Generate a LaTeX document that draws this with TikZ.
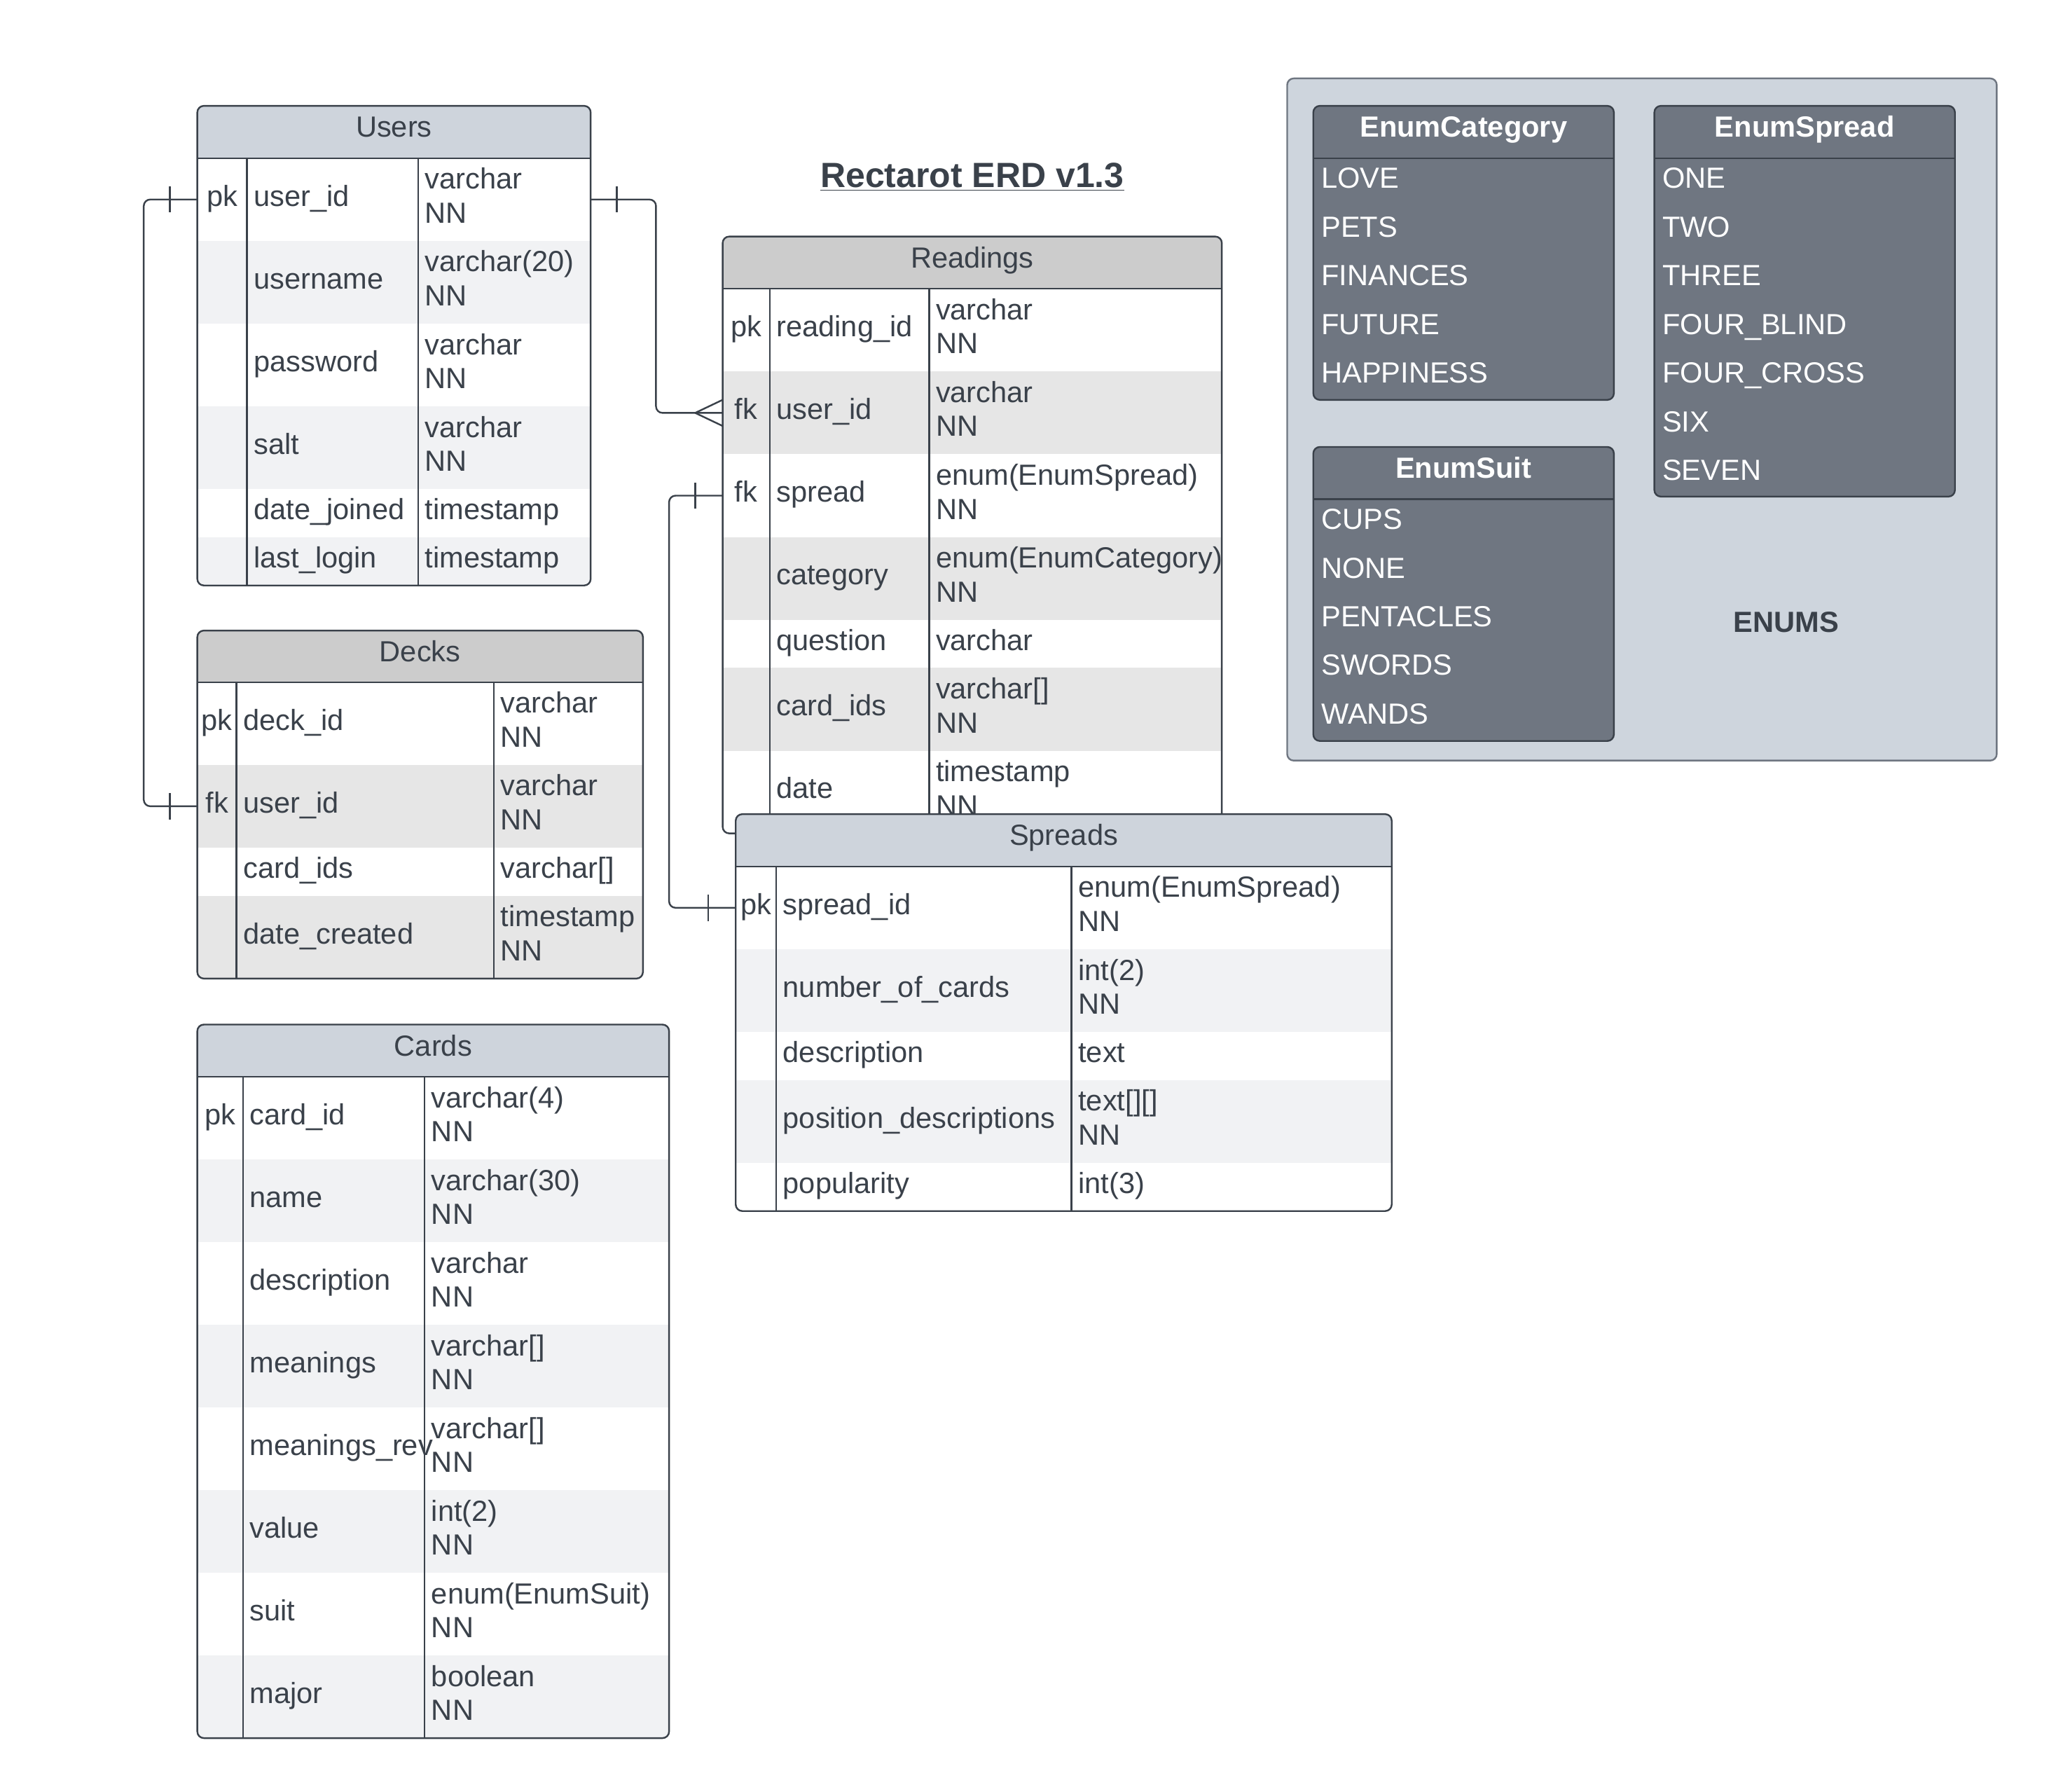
\documentclass[tikz,border=0pt]{standalone}
\usepackage{fontspec}
\setmainfont{Liberation Sans}
\usepackage{tikz}

\definecolor{ink}{HTML}{3A414A}
\definecolor{hdrblue}{HTML}{CED4DC}
\definecolor{rowblue}{HTML}{F1F2F4}
\definecolor{hdrgray}{HTML}{CCCCCC}
\definecolor{rowgray}{HTML}{E6E6E6}
\definecolor{enumbg}{HTML}{CED5DD}
\definecolor{enumbox}{HTML}{6F7681}

\begin{document}
\begin{tikzpicture}[x=1pt,y=-1pt,
  ln/.style={draw=ink, line width=1.3pt},
  cellbox/.style={anchor=north west, inner sep=0pt, outer sep=0pt},
  lbl/.style={font=\fontsize{22.3}{26}\selectfont, text=ink, inner sep=0pt, text height=16pt, text depth=5pt},
  fld/.style={lbl, anchor=west},
  rowmid/.style={yshift=0.5pt},
  rowtop/.style={yshift=13.5pt},
  rowbot/.style={yshift=-12.5pt},
  item/.style={lbl, anchor=west, text=white},
  ihead/.style={lbl, text=white, font=\fontsize{22.3}{26}\selectfont\bfseries}]
\useasboundingbox (0,0) rectangle (1568,1371);

\node[font=\fontsize{26.8}{30}\selectfont\bfseries, text=ink, inner sep=0pt, anchor=base] (title) at (744,143.6) {\underline{Rectarot ERD v1.3}};

% Users
\begin{scope}
\clip[rounded corners=5] (151,81) rectangle (452,448);
\fill[hdrblue] (151,81) rectangle (452,121);
\node[cellbox, fill=white, minimum width=301, minimum height=63.3] (u1) at (151,121) {};
\node[cellbox, fill=rowblue, minimum width=301, minimum height=63.3] (u2) at (u1.south west) {};
\node[cellbox, fill=white, minimum width=301, minimum height=63.3] (u3) at (u2.south west) {};
\node[cellbox, fill=rowblue, minimum width=301, minimum height=63.3] (u4) at (u3.south west) {};
\node[cellbox, fill=white, minimum width=301, minimum height=36.9] (u5) at (u4.south west) {};
\node[cellbox, fill=rowblue, minimum width=301, minimum height=36.9] (u6) at (u5.south west) {};
\end{scope}
\draw[ln, rounded corners=5] (151,81) rectangle (452,448);
\draw[ln] (151,121) -- (452,121);
\draw[ln] (189,121) -- (189,448);
\draw[ln] (320,121) -- (320,448);
\node[lbl] (uh) at (301.5,99.5) {Users};
\node[lbl, rowmid, xshift=19] (u1k) at (u1.west) {pk};
\node[fld, rowmid, xshift=43] (u1f) at (u1.west) {user\_id};
\node[fld, rowtop, xshift=174] (u1t) at (u1.west) {varchar};
\node[fld, rowbot, xshift=174] (u1n) at (u1.west) {NN};
\node[fld, rowmid, xshift=43] (u2f) at (u2.west) {username};
\node[fld, rowtop, xshift=174] (u2t) at (u2.west) {varchar(20)};
\node[fld, rowbot, xshift=174] (u2n) at (u2.west) {NN};
\node[fld, rowmid, xshift=43] (u3f) at (u3.west) {password};
\node[fld, rowtop, xshift=174] (u3t) at (u3.west) {varchar};
\node[fld, rowbot, xshift=174] (u3n) at (u3.west) {NN};
\node[fld, rowmid, xshift=43] (u4f) at (u4.west) {salt};
\node[fld, rowtop, xshift=174] (u4t) at (u4.west) {varchar};
\node[fld, rowbot, xshift=174] (u4n) at (u4.west) {NN};
\node[fld, rowmid, xshift=43] (u5f) at (u5.west) {date\_joined};
\node[fld, rowmid, xshift=174] (u5t) at (u5.west) {timestamp};
\node[fld, rowmid, xshift=43] (u6f) at (u6.west) {last\_login};
\node[fld, rowmid, xshift=174] (u6t) at (u6.west) {timestamp};

% Decks
\begin{scope}
\clip[rounded corners=5] (151,482.5) rectangle (492,748.8);
\fill[hdrgray] (151,482.5) rectangle (492,522);
\node[cellbox, fill=white, minimum width=341, minimum height=63.3] (d1) at (151,522) {};
\node[cellbox, fill=rowgray, minimum width=341, minimum height=63.3] (d2) at (d1.south west) {};
\node[cellbox, fill=white, minimum width=341, minimum height=36.9] (d3) at (d2.south west) {};
\node[cellbox, fill=rowgray, minimum width=341, minimum height=63.3] (d4) at (d3.south west) {};
\end{scope}
\draw[ln, rounded corners=5] (151,482.5) rectangle (492,748.8);
\draw[ln] (151,522) -- (492,522);
\draw[ln] (181,522) -- (181,748.8);
\draw[ln] (378,522) -- (378,748.8);
\node[lbl] (dh) at (321.5,501) {Decks};
\node[lbl, rowmid, xshift=15] (d1k) at (d1.west) {pk};
\node[fld, rowmid, xshift=35] (d1f) at (d1.west) {deck\_id};
\node[fld, rowtop, xshift=232] (d1t) at (d1.west) {varchar};
\node[fld, rowbot, xshift=232] (d1n) at (d1.west) {NN};
\node[lbl, rowmid, xshift=15] (d2k) at (d2.west) {fk};
\node[fld, rowmid, xshift=35] (d2f) at (d2.west) {user\_id};
\node[fld, rowtop, xshift=232] (d2t) at (d2.west) {varchar};
\node[fld, rowbot, xshift=232] (d2n) at (d2.west) {NN};
\node[fld, rowmid, xshift=35] (d3f) at (d3.west) {card\_ids};
\node[fld, rowmid, xshift=232] (d3t) at (d3.west) {varchar[]};
\node[fld, rowmid, xshift=35] (d4f) at (d4.west) {date\_created};
\node[fld, rowtop, xshift=232] (d4t) at (d4.west) {timestamp};
\node[fld, rowbot, xshift=232] (d4n) at (d4.west) {NN};

% Cards
\begin{scope}
\clip[rounded corners=5] (151,784) rectangle (512,1330);
\fill[hdrblue] (151,784) rectangle (512,824);
\node[cellbox, fill=white, minimum width=361, minimum height=63.25] (c1) at (151,824) {};
\node[cellbox, fill=rowblue, minimum width=361, minimum height=63.25] (c2) at (c1.south west) {};
\node[cellbox, fill=white, minimum width=361, minimum height=63.25] (c3) at (c2.south west) {};
\node[cellbox, fill=rowblue, minimum width=361, minimum height=63.25] (c4) at (c3.south west) {};
\node[cellbox, fill=white, minimum width=361, minimum height=63.25] (c5) at (c4.south west) {};
\node[cellbox, fill=rowblue, minimum width=361, minimum height=63.25] (c6) at (c5.south west) {};
\node[cellbox, fill=white, minimum width=361, minimum height=63.25] (c7) at (c6.south west) {};
\node[cellbox, fill=rowblue, minimum width=361, minimum height=63.25] (c8) at (c7.south west) {};
\end{scope}
\draw[ln, rounded corners=5] (151,784) rectangle (512,1330);
\draw[ln] (151,824) -- (512,824);
\draw[ln] (186,824) -- (186,1330);
\draw[ln] (325,824) -- (325,1330);
\node[lbl] (ch) at (331.5,802.5) {Cards};
\node[lbl, rowmid, xshift=17.5] (c1k) at (c1.west) {pk};
\node[fld, rowmid, xshift=40] (c1f) at (c1.west) {card\_id};
\node[fld, rowtop, xshift=179] (c1t) at (c1.west) {varchar(4)};
\node[fld, rowbot, xshift=179] (c1n) at (c1.west) {NN};
\node[fld, rowmid, xshift=40] (c2f) at (c2.west) {name};
\node[fld, rowtop, xshift=179] (c2t) at (c2.west) {varchar(30)};
\node[fld, rowbot, xshift=179] (c2n) at (c2.west) {NN};
\node[fld, rowmid, xshift=40] (c3f) at (c3.west) {description};
\node[fld, rowtop, xshift=179] (c3t) at (c3.west) {varchar};
\node[fld, rowbot, xshift=179] (c3n) at (c3.west) {NN};
\node[fld, rowmid, xshift=40] (c4f) at (c4.west) {meanings};
\node[fld, rowtop, xshift=179] (c4t) at (c4.west) {varchar[]};
\node[fld, rowbot, xshift=179] (c4n) at (c4.west) {NN};
\node[fld, rowmid, xshift=40] (c5f) at (c5.west) {meanings\_rev};
\node[fld, rowtop, xshift=179] (c5t) at (c5.west) {varchar[]};
\node[fld, rowbot, xshift=179] (c5n) at (c5.west) {NN};
\node[fld, rowmid, xshift=40] (c6f) at (c6.west) {value};
\node[fld, rowtop, xshift=179] (c6t) at (c6.west) {int(2)};
\node[fld, rowbot, xshift=179] (c6n) at (c6.west) {NN};
\node[fld, rowmid, xshift=40] (c7f) at (c7.west) {suit};
\node[fld, rowtop, xshift=179] (c7t) at (c7.west) {enum(EnumSuit)};
\node[fld, rowbot, xshift=179] (c7n) at (c7.west) {NN};
\node[fld, rowmid, xshift=40] (c8f) at (c8.west) {major};
\node[fld, rowtop, xshift=179] (c8t) at (c8.west) {boolean};
\node[fld, rowbot, xshift=179] (c8n) at (c8.west) {NN};

% Readings
\begin{scope}
\clip[rounded corners=5] (553,181) rectangle (935,637.7);
\fill[hdrgray] (553,181) rectangle (935,221);
\node[cellbox, fill=white, minimum width=382, minimum height=63.3] (r1) at (553,221) {};
\node[cellbox, fill=rowgray, minimum width=382, minimum height=63.3] (r2) at (r1.south west) {};
\node[cellbox, fill=white, minimum width=382, minimum height=63.3] (r3) at (r2.south west) {};
\node[cellbox, fill=rowgray, minimum width=382, minimum height=63.3] (r4) at (r3.south west) {};
\node[cellbox, fill=white, minimum width=382, minimum height=36.9] (r5) at (r4.south west) {};
\node[cellbox, fill=rowgray, minimum width=382, minimum height=63.3] (r6) at (r5.south west) {};
\node[cellbox, fill=white, minimum width=382, minimum height=63.3] (r7) at (r6.south west) {};
\end{scope}
\draw[ln, rounded corners=5] (553,181) rectangle (935,637.7);
\draw[ln] (553,221) -- (935,221);
\draw[ln] (589,221) -- (589,637.7);
\draw[ln] (711,221) -- (711,637.7);
\node[lbl] (rh) at (744,199.5) {Readings};
\node[lbl, rowmid, xshift=18] (r1k) at (r1.west) {pk};
\node[fld, rowmid, xshift=41] (r1f) at (r1.west) {reading\_id};
\node[fld, rowtop, xshift=163] (r1t) at (r1.west) {varchar};
\node[fld, rowbot, xshift=163] (r1n) at (r1.west) {NN};
\node[lbl, rowmid, xshift=18] (r2k) at (r2.west) {fk};
\node[fld, rowmid, xshift=41] (r2f) at (r2.west) {user\_id};
\node[fld, rowtop, xshift=163] (r2t) at (r2.west) {varchar};
\node[fld, rowbot, xshift=163] (r2n) at (r2.west) {NN};
\node[lbl, rowmid, xshift=18] (r3k) at (r3.west) {fk};
\node[fld, rowmid, xshift=41] (r3f) at (r3.west) {spread};
\node[fld, rowtop, xshift=163] (r3t) at (r3.west) {enum(EnumSpread)};
\node[fld, rowbot, xshift=163] (r3n) at (r3.west) {NN};
\node[fld, rowmid, xshift=41] (r4f) at (r4.west) {category};
\node[fld, rowtop, xshift=163] (r4t) at (r4.west) {enum(EnumCategory)};
\node[fld, rowbot, xshift=163] (r4n) at (r4.west) {NN};
\node[fld, rowmid, xshift=41] (r5f) at (r5.west) {question};
\node[fld, rowmid, xshift=163] (r5t) at (r5.west) {varchar};
\node[fld, rowmid, xshift=41] (r6f) at (r6.west) {card\_ids};
\node[fld, rowtop, xshift=163] (r6t) at (r6.west) {varchar[]};
\node[fld, rowbot, xshift=163] (r6n) at (r6.west) {NN};
\node[fld, rowmid, xshift=41] (r7f) at (r7.west) {date};
\node[fld, rowtop, xshift=163] (r7t) at (r7.west) {timestamp};
\node[fld, rowbot, xshift=163] (r7n) at (r7.west) {NN};

% Spreads
\begin{scope}
\clip[rounded corners=5] (563,623) rectangle (1065,926.7);
\fill[hdrblue] (563,623) rectangle (1065,663);
\node[cellbox, fill=white, minimum width=502, minimum height=63.3] (s1) at (563,663) {};
\node[cellbox, fill=rowblue, minimum width=502, minimum height=63.3] (s2) at (s1.south west) {};
\node[cellbox, fill=white, minimum width=502, minimum height=36.9] (s3) at (s2.south west) {};
\node[cellbox, fill=rowblue, minimum width=502, minimum height=63.3] (s4) at (s3.south west) {};
\node[cellbox, fill=white, minimum width=502, minimum height=36.9] (s5) at (s4.south west) {};
\end{scope}
\draw[ln, rounded corners=5] (563,623) rectangle (1065,926.7);
\draw[ln] (563,663) -- (1065,663);
\draw[ln] (594,663) -- (594,926.7);
\draw[ln] (820,663) -- (820,926.7);
\node[lbl] (sh) at (814,641.5) {Spreads};
\node[lbl, rowmid, xshift=15.5] (s1k) at (s1.west) {pk};
\node[fld, rowmid, xshift=36] (s1f) at (s1.west) {spread\_id};
\node[fld, rowtop, xshift=262] (s1t) at (s1.west) {enum(EnumSpread)};
\node[fld, rowbot, xshift=262] (s1n) at (s1.west) {NN};
\node[fld, rowmid, xshift=36] (s2f) at (s2.west) {number\_of\_cards};
\node[fld, rowtop, xshift=262] (s2t) at (s2.west) {int(2)};
\node[fld, rowbot, xshift=262] (s2n) at (s2.west) {NN};
\node[fld, rowmid, xshift=36] (s3f) at (s3.west) {description};
\node[fld, rowmid, xshift=262] (s3t) at (s3.west) {text};
\node[fld, rowmid, xshift=36] (s4f) at (s4.west) {position\_descriptions};
\node[fld, rowtop, xshift=262] (s4t) at (s4.west) {text[][]};
\node[fld, rowbot, xshift=262] (s4n) at (s4.west) {NN};
\node[fld, rowmid, xshift=36] (s5f) at (s5.west) {popularity};
\node[fld, rowmid, xshift=262] (s5t) at (s5.west) {int(3)};

% connectors
\draw[ln, rounded corners=5] (u1.west) -- ++(-41,0) |- (d2.west);
\draw[ln] ([xshift=-21,yshift=10]u1.west) -- ++(0,20);
\draw[ln] ([xshift=-21,yshift=10]d2.west) -- ++(0,20);
\draw[ln, rounded corners=5] (u1.east) -- ++(50,0) |- (r2.west);
\draw[ln] ([xshift=20,yshift=10]u1.east) -- ++(0,20);
\draw[ln] ([xshift=-21]r2.west) -- ([yshift=10]r2.west);
\draw[ln] ([xshift=-21]r2.west) -- ([yshift=-10]r2.west);
\draw[ln, rounded corners=5] (r3.west) -- ++(-41,0) |- (s1.west);
\draw[ln] ([xshift=-21,yshift=10]r3.west) -- ++(0,20);
\draw[ln] ([xshift=-21,yshift=10]s1.west) -- ++(0,20);

% Enums
\draw[draw=enumbox, fill=enumbg, line width=1.3pt, rounded corners=5] (985,60) rectangle (1528,582);
\node[cellbox, ln, fill=enumbox, rounded corners=5, minimum width=230, minimum height=225] (ecat) at (1005,81) {};
\draw[ln] ([yshift=-40]ecat.north west) -- ([yshift=-40]ecat.north east);
\node[ihead, yshift=-18.5] (ecath) at (ecat.north) {EnumCategory};
\node[item, xshift=6, yshift=-57.5] (ecat1) at (ecat.north west) {LOVE};
\node[item, xshift=6, yshift=-94.75] (ecat2) at (ecat.north west) {PETS};
\node[item, xshift=6, yshift=-132] (ecat3) at (ecat.north west) {FINANCES};
\node[item, xshift=6, yshift=-169.25] (ecat4) at (ecat.north west) {FUTURE};
\node[item, xshift=6, yshift=-206.5] (ecat5) at (ecat.north west) {HAPPINESS};

\node[cellbox, ln, fill=enumbox, rounded corners=5, minimum width=230, minimum height=299] (espr) at (1266,81) {};
\draw[ln] ([yshift=-40]espr.north west) -- ([yshift=-40]espr.north east);
\node[ihead, yshift=-18.5] (esprh) at (espr.north) {EnumSpread};
\node[item, xshift=6, yshift=-57.5] (espr1) at (espr.north west) {ONE};
\node[item, xshift=6, yshift=-94.75] (espr2) at (espr.north west) {TWO};
\node[item, xshift=6, yshift=-132] (espr3) at (espr.north west) {THREE};
\node[item, xshift=6, yshift=-169.25] (espr4) at (espr.north west) {FOUR\_BLIND};
\node[item, xshift=6, yshift=-206.5] (espr5) at (espr.north west) {FOUR\_CROSS};
\node[item, xshift=6, yshift=-243.75] (espr6) at (espr.north west) {SIX};
\node[item, xshift=6, yshift=-281] (espr7) at (espr.north west) {SEVEN};

\node[cellbox, ln, fill=enumbox, rounded corners=5, minimum width=230, minimum height=225] (esuit) at (1005,342) {};
\draw[ln] ([yshift=-40]esuit.north west) -- ([yshift=-40]esuit.north east);
\node[ihead, yshift=-18.5] (esuith) at (esuit.north) {EnumSuit};
\node[item, xshift=6, yshift=-57.5] (esuit1) at (esuit.north west) {CUPS};
\node[item, xshift=6, yshift=-94.75] (esuit2) at (esuit.north west) {NONE};
\node[item, xshift=6, yshift=-132] (esuit3) at (esuit.north west) {PENTACLES};
\node[item, xshift=6, yshift=-169.25] (esuit4) at (esuit.north west) {SWORDS};
\node[item, xshift=6, yshift=-206.5] (esuit5) at (esuit.north west) {WANDS};

\node[lbl, font=\fontsize{22.3}{26}\selectfont\bfseries] (enums) at (1367,478.5) {ENUMS};
\end{tikzpicture}
\end{document}
